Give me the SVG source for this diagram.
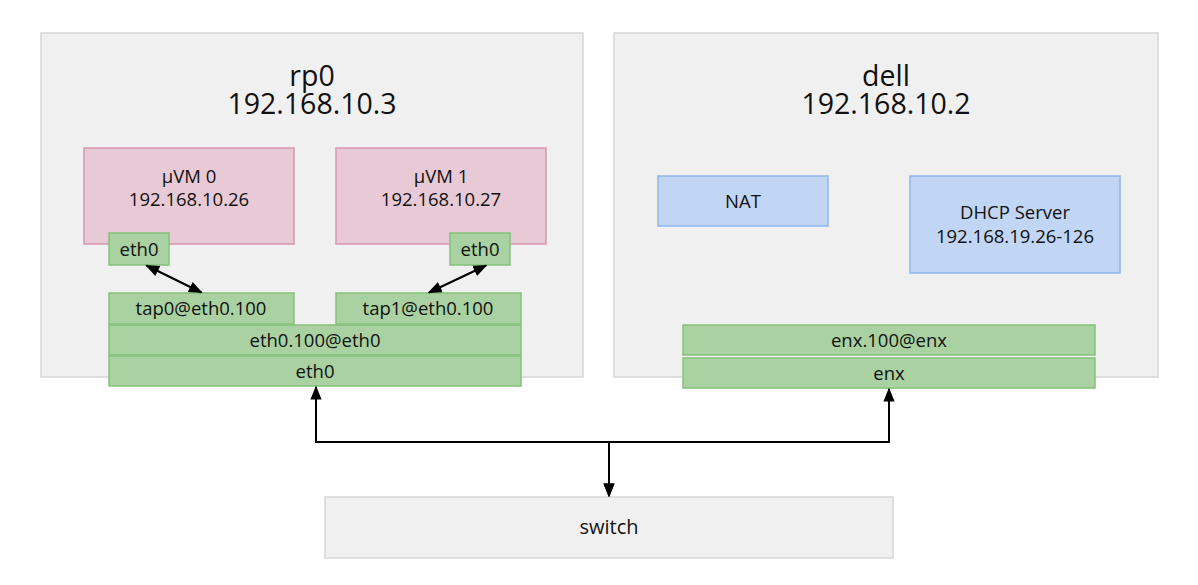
<svg xmlns="http://www.w3.org/2000/svg" width="1198" height="585" viewBox="0 0 1198 585">
<style>
text{font-family:"Open Sans","Noto Sans",sans-serif;fill:#111;text-anchor:middle}
.host{fill:#f0f0f0;stroke:#d6d6d6;stroke-width:1.5}
.vm{fill:#e8c9d6;stroke:#d796b0;stroke-width:1.5}
.nic{fill:#a9d1a1;stroke:#84c179;stroke-width:1.5}
.svc{fill:#c1d6f4;stroke:#8fb7ea;stroke-width:1.5}
.t{font-size:28.5px}
.s{font-size:18.5px}
.w{font-size:20px}
.e{stroke:#000;stroke-width:2;fill:none}
</style>
<defs>
<marker id="b" viewBox="0 0 10 10" refX="9" refY="5" markerWidth="14" markerHeight="14" markerUnits="userSpaceOnUse" orient="auto-start-reverse">
<path d="M0,1 L10,5 L0,9 z" fill="#000"/>
</marker>
</defs>
<g id="rp0"><rect class="host" x="41" y="33" width="542" height="344"/><text class="t" x="312" y="86">rp0</text><text class="t" x="312" y="114">192.168.10.3</text></g>
<g id="dell"><rect class="host" x="614" y="33" width="544" height="344"/><text class="t" x="886" y="86">dell</text><text class="t" x="886" y="114">192.168.10.2</text></g>
<g id="uvm0"><rect class="vm" x="84" y="148" width="210" height="96"/><text class="s" x="189" y="183">μVM 0</text><text class="s" x="189" y="206">192.168.10.26</text></g>
<g id="uvm1"><rect class="vm" x="336" y="148" width="210" height="96"/><text class="s" x="441" y="183">μVM 1</text><text class="s" x="441" y="206">192.168.10.27</text></g>
<g id="vm0-eth0"><rect class="nic" x="109" y="233" width="60" height="32"/><text class="s" x="139" y="256">eth0</text></g>
<g id="vm1-eth0"><rect class="nic" x="450" y="233" width="60" height="32"/><text class="s" x="480" y="256">eth0</text></g>
<g id="tap0"><rect class="nic" x="109" y="293" width="185" height="31"/><text class="s" x="201" y="315">tap0@eth0.100</text></g>
<g id="tap1"><rect class="nic" x="336" y="293" width="185" height="31"/><text class="s" x="428" y="315">tap1@eth0.100</text></g>
<g id="eth0-100"><rect class="nic" x="109" y="325" width="412" height="30"/><text class="s" x="315" y="347">eth0.100@eth0</text></g>
<g id="eth0"><rect class="nic" x="109" y="356" width="412" height="30"/><text class="s" x="315" y="378">eth0</text></g>
<g id="nat"><rect class="svc" x="658" y="176" width="170" height="50"/><text class="s" x="743" y="208">NAT</text></g>
<g id="dhcp"><rect class="svc" x="910" y="176" width="210" height="97"/><text class="s" x="1015" y="219">DHCP Server</text><text class="s" x="1015" y="243">192.168.19.26-126</text></g>
<g id="enx-100"><rect class="nic" x="683" y="325" width="412" height="30"/><text class="s" x="889" y="347">enx.100@enx</text></g>
<g id="enx"><rect class="nic" x="683" y="358" width="412" height="30"/><text class="s" x="889" y="380">enx</text></g>
<g id="switch"><rect class="host" x="325" y="497" width="568" height="61"/><text class="w" x="609" y="534">switch</text></g>
<g id="connectors">
<path class="e" d="M146.5,265.5 L201.5,292.5" marker-start="url(#b)" marker-end="url(#b)"/>
<path class="e" d="M486,265.5 L429,292.5" marker-start="url(#b)" marker-end="url(#b)"/>
<path class="e" d="M316,387 L316,442 L609,442 L609,496" marker-start="url(#b)" marker-end="url(#b)"/>
<path class="e" d="M889,389 L889,442 L609,442 L609,496" marker-start="url(#b)" marker-end="url(#b)"/>
</g>
</svg>
